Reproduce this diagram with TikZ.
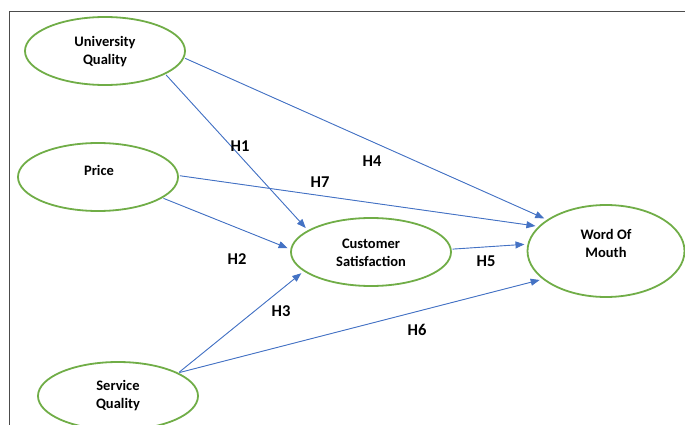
\documentclass[tikz,border=0pt]{standalone}
\usepackage{fontspec}
\setmainfont{Carlito}
\usetikzlibrary{shapes.geometric,arrows.meta}
\definecolor{ovalgreen}{HTML}{70AD47}
\definecolor{linkblue}{HTML}{4472C4}
\begin{document}
\begin{tikzpicture}[x=1pt,y=-1pt,font=\bfseries\fontsize{14.5}{18}\selectfont,line join=round,>={Triangle[length=9pt,width=7pt]},
	oval/.style={draw=ovalgreen,line width=1.8pt,ellipse,inner sep=0pt,minimum width=160pt,minimum height=68pt},
	txt/.style={align=center,inner sep=0pt},
	hyp/.style={font=\bfseries\fontsize{16.5}{18}\selectfont,inner sep=0pt},
	link/.style={->,draw=linkblue,fill=linkblue,line width=0.9pt,shorten >=3pt,shorten <=1pt}]
	\useasboundingbox (0,0) rectangle (685,425);
	\clip (0,0) rectangle (685,425);
	\draw[black!70,line width=1pt] (9,425)--(9,12)--(685,12);
	% constructs
	\node[oval] (uq) at (105,51) {};
	\node[oval] (price) at (98,177) {};
	\node[oval] (sq) at (118,396) {};
	\node[oval] (cs) at (371,252) {};
	\node[oval,minimum width=157pt,minimum height=92pt] (wom) at (606,251) {};
	\node[txt] (uqtext) at (105,52) {University\\Quality};
	\node[txt] (pricetext) at (99,170) {Price};
	\node[txt] (sqtext) at (118,396) {Service\\Quality};
	\node[txt] (cstext) at (371,253) {Customer\\Satisfaction};
	\node[txt] (womtext) at (606,243) {Word Of\\Mouth};
	% paths
	\draw[link] (uq.-5)--(wom.152);
	\draw[link] (uq.-21)--(cs.161);
	\draw[link] (price.1.5)--(wom.160);
	\draw[link] (price.-18)--(cs.178);
	\draw[link] (cs.2)--(wom.175);
	\draw[link] (sq.21)--(cs.196);
	\draw[link] (sq.21)--(wom.204);
	% hypotheses
	\node[hyp] (h1) at (240,146) {H1};
	\node[hyp] (h2) at (237,259) {H2};
	\node[hyp] (h3) at (281,311) {H3};
	\node[hyp] (h4) at (372,161) {H4};
	\node[hyp] (h5) at (486,261) {H5};
	\node[hyp] (h6) at (417,330) {H6};
	\node[hyp] (h7) at (320,182) {H7};
\end{tikzpicture}
\end{document}
